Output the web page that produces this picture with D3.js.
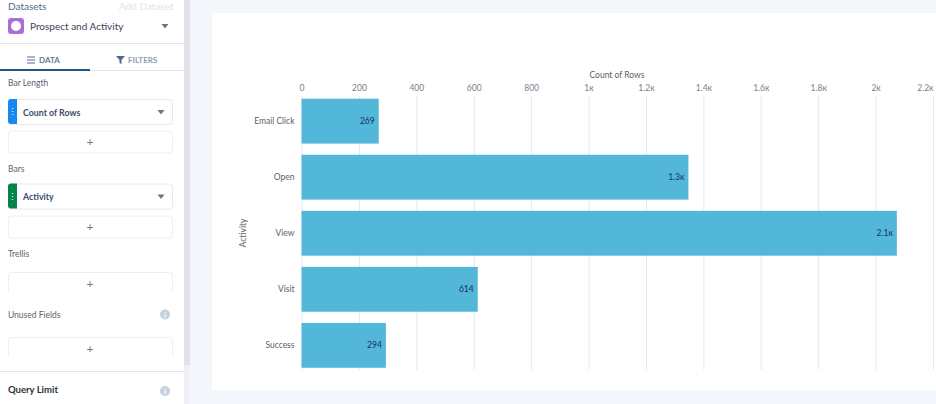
<!DOCTYPE html>
<html>
<head>
<meta charset="utf-8">
<script src="https://cdn.jsdelivr.net/npm/d3@7"></script>
<style>
  body { margin: 0; background: #f3f6fa; overflow: hidden; }
  svg { display: block; }
  text { font-family: Lato, "Open Sans", sans-serif; }
</style>
</head>
<body>
<div class="chart"></div>
<script>
const activities = ["Email Click", "Open", "View", "Visit", "Success"];
const counts = [269, 1348, 2074, 614, 294];
const barLabels = ["269", "1.3\u043a", "2.1\u043a", "614", "294"];
const xTicks = [0, 200, 400, 600, 800, 1000, 1200, 1400, 1600, 1800, 2000, 2200];
const xTickLabels = ["0", "200", "400", "600", "800", "1\u043a", "1.2\u043a", "1.4\u043a", "1.6\u043a", "1.8\u043a", "2\u043a", "2.2\u043a"];

const svg = d3.select(".chart").append("svg")
    .attr("width", 936)
    .attr("height", 404);

// sidebar
const side = svg.append("g");
side.append("rect").attr("width", 184).attr("height", 404).attr("fill", "#fff");
side.append("rect").attr("x", 184).attr("width", 6).attr("height", 404).attr("fill", "#e4e2e6");
side.append("rect").attr("x", 184).attr("y", 365).attr("width", 6).attr("height", 39).attr("fill", "#eff0f3");

function label(x, y, txt, size, color, weight) {
    return side.append("text").attr("x", x).attr("y", y).text(txt)
        .attr("font-size", size).attr("fill", color).attr("font-weight", weight || 400);
}
function hline(y) {
    side.append("rect").attr("x", 0).attr("y", y).attr("width", 184).attr("height", 1).attr("fill", "#e4e6ea");
}
function tri(x, y, color) {
    side.append("path").attr("transform", `translate(${x},${y})`).attr("d", "M-3.5,-2H3.5L0,2.5Z").attr("fill", color);
}
function addBox(y, h) {
    side.append("rect").attr("x", 8.5).attr("y", y).attr("width", 164).attr("height", h)
        .attr("rx", 3).attr("fill", "#fff").attr("stroke", "#eceef1");
    side.append("text").attr("x", 90).attr("y", y + h / 2 + 4).attr("text-anchor", "middle")
        .attr("font-size", 12).attr("fill", "#6a7a92").text("+");
}
function pill(y, color, txt) {
    side.append("rect").attr("x", 8.5).attr("y", y + 0.5).attr("width", 164).attr("height", 25)
        .attr("rx", 3).attr("fill", "#fff").attr("stroke", "#e6e8ec");
    side.append("path").attr("d", `M11,${y}H17V${y + 25}H11Q8,${y + 25} 8,${y + 22}V${y + 3}Q8,${y} 11,${y}Z`).attr("fill", color);
    side.append("text").attr("x", 12.5).attr("y", y + 16).attr("text-anchor", "middle")
        .attr("font-size", 9).attr("fill", "#fff").text("\u22ee");
    label(23, y + 16.5, txt, 8.8, "#3a4c6c", 700);
    tri(161, y + 13, "#6f7480");
}

label(8, 10, "Datasets", 10, "#54698d", 400);
label(119, 10, "Add Dataset", 10, "#e2e4e8", 400);
side.append("rect").attr("x", 8).attr("y", 18).attr("width", 16).attr("height", 16).attr("rx", 3).attr("fill", "#a86fd8");
side.append("circle").attr("cx", 16).attr("cy", 26).attr("r", 5).attr("fill", "#fff");
label(30, 30, "Prospect and Activity", 10, "#3a4254");
tri(165, 26, "#6f7480");
hline(43);

side.append("g").attr("stroke", "#54698d").attr("stroke-width", 1).selectAll("line")
    .data(["a", "b", "c"]).join("line")
    .attr("x1", 27).attr("x2", 35).attr("y1", (d, i) => 57 + i * 3).attr("y2", (d, i) => 57 + i * 3);
label(39, 63, "DATA", 8, "#6a7a92", 700);
side.append("path").attr("d", "M116,56H125L121.5,60V64L119.5,63V60Z").attr("fill", "#54698d");
label(128, 63, "FILTERS", 8, "#8f9bb0", 700);
hline(70);
side.append("rect").attr("x", 0).attr("y", 69).attr("width", 90).attr("height", 2).attr("fill", "#16588c");

label(8, 86, "Bar Length", 8.5, "#5a5f68");
pill(99, "#1589ee", "Count of Rows");
addBox(131, 22);
label(8, 172, "Bars", 8.5, "#5a5f68");
pill(183.5, "#04844b", "Activity");
addBox(216, 22);
label(8, 257, "Trellis", 8.5, "#5a5f68");
addBox(272.5, 22);
side.append("rect").attr("x", 8).attr("y", 292).attr("width", 166).attr("height", 6).attr("fill", "#fff");
label(8, 318, "Unused Fields", 8.5, "#5a5f68");
addBox(337.5, 22);
side.append("rect").attr("x", 8).attr("y", 357).attr("width", 166).attr("height", 5).attr("fill", "#fff");
hline(371);
label(8, 393, "Query Limit", 9.5, "#2a2f3a", 700);

[314.5, 391].forEach(y => {
    side.append("circle").attr("cx", 165).attr("cy", y).attr("r", 5).attr("fill", "#c5d0e0");
    side.append("text").attr("x", 165).attr("y", y + 3).attr("text-anchor", "middle")
        .attr("font-size", 8).attr("font-weight", 700).attr("fill", "#fff").text("i");
});

// chart panel
svg.append("rect").attr("x", 212).attr("y", 13).attr("width", 724).attr("height", 377).attr("fill", "#fff");

const xScale = d3.scaleLinear().domain([0, 2200]).range([301.5, 933]);
const yScale = d3.scaleBand().domain(activities).range([92, 374.5]).paddingInner(0.2).paddingOuter(0.12);

const xAxis = d3.axisTop(xScale)
    .tickValues(xTicks)
    .tickFormat((d, i) => xTickLabels[i])
    .tickSize(-274)
    .tickPadding(5);
const xG = svg.append("g")
    .attr("transform", "translate(0,96)")
    .call(xAxis);
xG.select(".domain").remove();
xG.selectAll("line").attr("stroke", "#e8eaee");
xG.selectAll("text").attr("font-size", 8.5).attr("fill", "#7a7f88")
    .style("font-family", "Lato, sans-serif");
// last label would run off the page
xG.selectAll(".tick:last-of-type text").attr("text-anchor", "end");

svg.append("g").selectAll("rect")
    .data(activities)
    .join("rect")
    .attr("x", xScale(0))
    .attr("y", d => yScale(d))
    .attr("width", (d, i) => xScale(counts[i]) - xScale(0))
    .attr("height", yScale.bandwidth())
    .attr("fill", "#52b7d8");

svg.append("g").selectAll("text")
    .data(activities)
    .join("text")
    .attr("x", (d, i) => xScale(counts[i]) - 4)
    .attr("y", d => yScale(d) + yScale.bandwidth() / 2 + 3)
    .attr("text-anchor", "end")
    .attr("font-size", 8.5)
    .attr("fill", "#16325c")
    .text((d, i) => barLabels[i]);

const yAxis = d3.axisLeft(yScale).tickSize(0).tickPadding(7);
const yG = svg.append("g")
    .attr("transform", "translate(301.5,0)")
    .call(yAxis);
yG.select(".domain").remove();
yG.selectAll("text").attr("font-size", 8.5).attr("fill", "#5a5f68")
    .style("font-family", "Lato, sans-serif");

svg.append("text")
    .attr("x", 617).attr("y", 78)
    .attr("text-anchor", "middle")
    .attr("font-size", 8.5)
    .attr("fill", "#5a5f68")
    .text("Count of Rows");

svg.append("text")
    .attr("transform", "translate(246,233)rotate(-90)")
    .attr("text-anchor", "middle")
    .attr("font-size", 8.5)
    .attr("fill", "#5a5f68")
    .text("Activity");
</script>
</body>
</html>
